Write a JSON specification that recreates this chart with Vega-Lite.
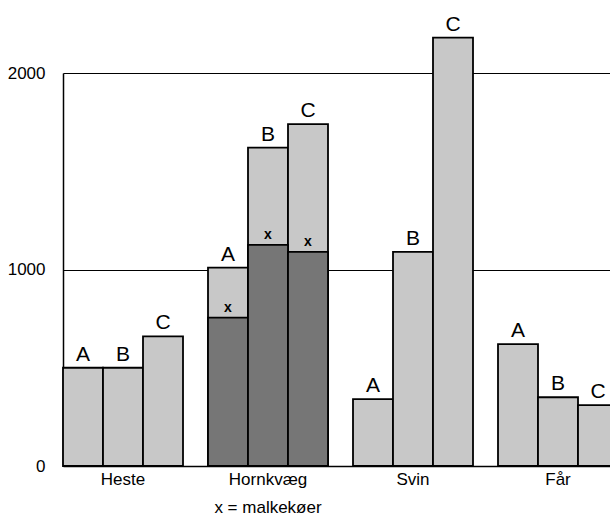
{
  "$schema": "https://vega.github.io/schema/vega-lite/v6.json",
  "autosize": {"type": "none"},
  "width": 547,
  "height": 393,
  "padding": {"left": 63, "top": 73, "right": 0, "bottom": 50},
  "background": "white",
  "config": {
    "view": {"stroke": null},
    "font": "Liberation Sans"
  },
  "data": {
    "values": [
      {"dyr": "Heste", "periode": "A", "antal": 500},
      {"dyr": "Heste", "periode": "B", "antal": 500},
      {"dyr": "Heste", "periode": "C", "antal": 660},
      {"dyr": "Hornkvæg", "periode": "A", "antal": 1010, "malkekoer": 755},
      {"dyr": "Hornkvæg", "periode": "B", "antal": 1620, "malkekoer": 1125},
      {"dyr": "Hornkvæg", "periode": "C", "antal": 1740, "malkekoer": 1090},
      {"dyr": "Svin", "periode": "A", "antal": 340},
      {"dyr": "Svin", "periode": "B", "antal": 1090},
      {"dyr": "Svin", "periode": "C", "antal": 2180},
      {"dyr": "Får", "periode": "A", "antal": 620},
      {"dyr": "Får", "periode": "B", "antal": 350},
      {"dyr": "Får", "periode": "C", "antal": 310}
    ]
  },
  "encoding": {
    "x": {
      "field": "dyr", "type": "nominal",
      "sort": ["Heste", "Hornkvæg", "Svin", "Får"],
      "scale": {"range": [0, 555], "paddingInner": 0.1724, "paddingOuter": 0},
      "axis": {
        "title": null, "ticks": false, "domainColor": "black", "domainWidth": 1.5,
        "labelFontSize": 17, "labelColor": "black", "labelPadding": 5, "labelAngle": 0,
        "labelLineHeight": 28,
        "labelExpr": "datum.value == 'Hornkvæg' ? ['Hornkvæg', 'x = malkekøer'] : datum.value"
      }
    },
    "xOffset": {"field": "periode", "type": "nominal", "scale": {"paddingInner": 0, "paddingOuter": 0}}
  },
  "layer": [
    {
      "mark": {"type": "bar", "fill": "#c8c8c8", "stroke": "black", "strokeWidth": 1.8},
      "encoding": {
        "y": {
          "field": "antal", "type": "quantitative",
          "scale": {"domain": [0, 2000], "nice": false},
          "axis": {
            "title": null, "values": [0, 1000, 2000], "format": "d", "ticks": false,
            "grid": true, "gridColor": "black", "gridWidth": 1.2, "gridOpacity": 1,
            "domainColor": "black", "domainWidth": 1.5,
            "labelFontSize": 17, "labelColor": "black", "labelPadding": 18
          }
        }
      }
    },
    {
      "transform": [{"filter": "isValid(datum.malkekoer)"}],
      "mark": {"type": "bar", "fill": "#767676", "stroke": "black", "strokeWidth": 1.8},
      "encoding": {"y": {"field": "malkekoer", "type": "quantitative"}}
    },
    {
      "transform": [{"filter": "isValid(datum.malkekoer)"}],
      "mark": {"type": "text", "text": "x", "fontSize": 14, "fontWeight": "bold", "baseline": "alphabetic", "dy": -6, "color": "black"},
      "encoding": {"y": {"field": "malkekoer", "type": "quantitative"}}
    },
    {
      "mark": {"type": "text", "fontSize": 21, "baseline": "alphabetic", "dy": -7, "color": "black"},
      "encoding": {
        "y": {"field": "antal", "type": "quantitative"},
        "text": {"field": "periode"}
      }
    }
  ]
}
